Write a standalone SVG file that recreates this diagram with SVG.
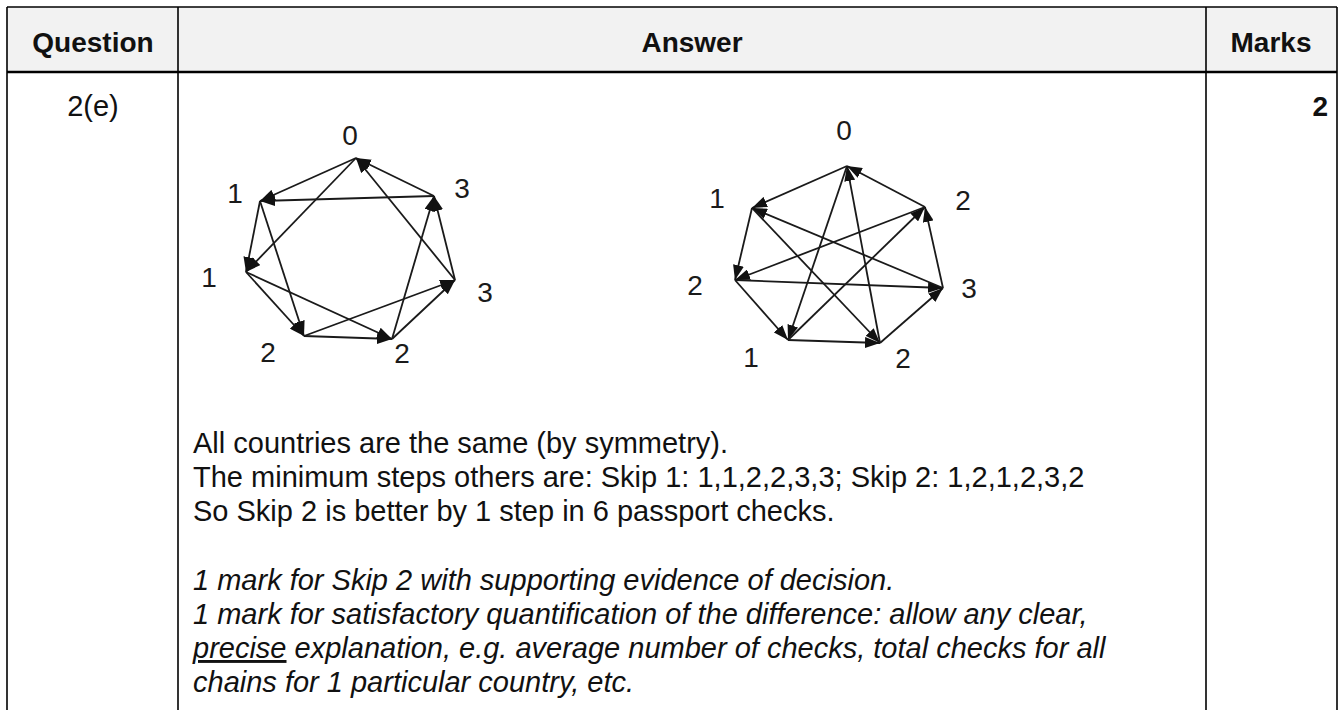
<svg xmlns="http://www.w3.org/2000/svg" width="1340" height="710" viewBox="0 0 1340 710">
<style>
.hdr{font-family:"Liberation Sans",Arial,sans-serif;font-weight:bold;font-size:28px;fill:#111;text-anchor:middle}
.mark{font-family:"Liberation Sans",Arial,sans-serif;font-weight:bold;font-size:28px;fill:#111;text-anchor:end}
.body{font-family:"Liberation Sans",Arial,sans-serif;font-size:29px;fill:#111}
.it{font-style:italic}
.lbl{font-family:"Liberation Sans",Arial,sans-serif;font-size:28px;fill:#1a1a1a;text-anchor:middle}
.edge{stroke:#1a1a1a;stroke-width:1.8;fill:none;marker-end:url(#ah)}
.rule{stroke:#000;stroke-width:1.6}
</style>
<defs>
<marker id="ah" markerUnits="userSpaceOnUse" markerWidth="15" markerHeight="11" refX="15" refY="5.5" orient="auto">
<path d="M0,0 L15,5.5 L0,11 z" fill="#111"/>
</marker>
</defs>
<g id="table">
<rect x="7" y="7" width="1330" height="65" fill="#f2f2f2"/>
<line class="rule" x1="7" y1="7" x2="1337" y2="7"/>
<line x1="7" y1="72" x2="1337" y2="72" stroke="#000" stroke-width="2.4"/>
<line class="rule" x1="7" y1="7" x2="7" y2="710"/>
<line class="rule" x1="178" y1="7" x2="178" y2="710"/>
<line class="rule" x1="1206" y1="7" x2="1206" y2="710"/>
<line class="rule" x1="1337" y1="7" x2="1337" y2="710"/>
<text class="hdr" x="93" y="52">Question</text>
<text class="hdr" x="692" y="52">Answer</text>
<text class="hdr" x="1271" y="52">Marks</text>
<text class="body" x="93" y="116" text-anchor="middle">2(e)</text>
<text class="mark" x="1328" y="116">2</text>
</g>
<g id="graph1-labels">
<text class="lbl" x="350" y="145">0</text>
<text class="lbl" x="235" y="203">1</text>
<text class="lbl" x="462" y="198">3</text>
<text class="lbl" x="209" y="287">1</text>
<text class="lbl" x="485" y="302">3</text>
<text class="lbl" x="268" y="362">2</text>
<text class="lbl" x="402" y="363">2</text>
</g>
<g id="graph2-labels">
<text class="lbl" x="844" y="140">0</text>
<text class="lbl" x="717" y="208">1</text>
<text class="lbl" x="963" y="210">2</text>
<text class="lbl" x="695" y="295">2</text>
<text class="lbl" x="969" y="298">3</text>
<text class="lbl" x="751" y="367">1</text>
<text class="lbl" x="903" y="368">2</text>
</g>
<g id="connectors">
<line class="edge" x1="356" y1="158" x2="260" y2="201"/>
<line class="edge" x1="356" y1="158" x2="246" y2="272"/>
<line class="edge" x1="260" y1="201" x2="246" y2="272"/>
<line class="edge" x1="260" y1="201" x2="304" y2="336"/>
<line class="edge" x1="246" y1="272" x2="304" y2="336"/>
<line class="edge" x1="246" y1="272" x2="392" y2="339"/>
<line class="edge" x1="304" y1="336" x2="392" y2="339"/>
<line class="edge" x1="304" y1="336" x2="455" y2="280"/>
<line class="edge" x1="392" y1="339" x2="455" y2="280"/>
<line class="edge" x1="392" y1="339" x2="434" y2="196"/>
<line class="edge" x1="455" y1="280" x2="434" y2="196"/>
<line class="edge" x1="455" y1="280" x2="356" y2="158"/>
<line class="edge" x1="434" y1="196" x2="356" y2="158"/>
<line class="edge" x1="434" y1="196" x2="260" y2="201"/>
<line class="edge" x1="847" y1="166" x2="752" y2="208"/>
<line class="edge" x1="752" y1="208" x2="735" y2="280"/>
<line class="edge" x1="735" y1="280" x2="788" y2="340"/>
<line class="edge" x1="788" y1="340" x2="880" y2="343"/>
<line class="edge" x1="880" y1="343" x2="943" y2="288"/>
<line class="edge" x1="943" y1="288" x2="925" y2="207"/>
<line class="edge" x1="925" y1="207" x2="847" y2="166"/>
<line class="edge" x1="847" y1="166" x2="788" y2="340"/>
<line class="edge" x1="752" y1="208" x2="880" y2="343"/>
<line class="edge" x1="735" y1="280" x2="943" y2="288"/>
<line class="edge" x1="788" y1="340" x2="925" y2="207"/>
<line class="edge" x1="880" y1="343" x2="847" y2="166"/>
<line class="edge" x1="943" y1="288" x2="752" y2="208"/>
<line class="edge" x1="925" y1="207" x2="735" y2="280"/>
</g>
<g id="answer-text" class="body">
<text x="193" y="453">All countries are the same (by symmetry).</text>
<text x="193" y="487">The minimum steps others are: Skip 1: 1,1,2,2,3,3; Skip 2: 1,2,1,2,3,2</text>
<text x="193" y="521">So Skip 2 is better by 1 step in 6 passport checks.</text>
<text class="it" x="193" y="590">1 mark for Skip 2 with supporting evidence of decision.</text>
<text class="it" x="193" y="624">1 mark for satisfactory quantification of the difference: allow any clear,</text>
<text class="it" x="193" y="658"><tspan text-decoration="underline">precise</tspan> explanation, e.g. average number of checks, total checks for all</text>
<text class="it" x="193" y="692">chains for 1 particular country, etc.</text>
</g>
</svg>
